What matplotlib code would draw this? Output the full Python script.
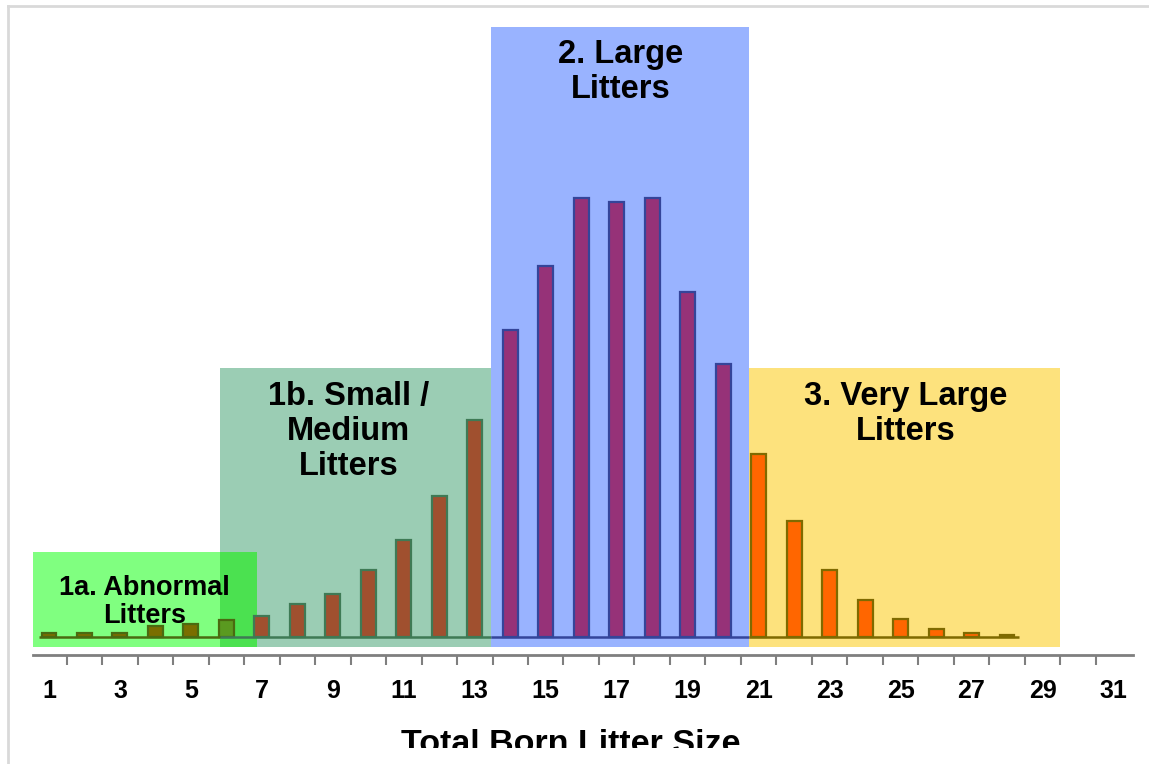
import matplotlib
matplotlib.use('Agg')
import matplotlib.pyplot as plt
from matplotlib.patches import Rectangle
from matplotlib.lines import Line2D

plt.rcParams['font.family'] = ['Liberation Sans', 'DejaVu Sans']

# litter size and share of litters (%)
litter_size = list(range(1, 29))
share = [0.11, 0.11, 0.11, 0.30, 0.35, 0.46, 0.57, 0.89, 1.16, 1.80,
         2.61, 3.79, 5.84, 8.26, 9.98, 11.81, 11.71, 11.81, 9.28, 7.35,
         4.92, 3.12, 1.80, 1.00, 0.48, 0.22, 0.11, 0.05]
tick_labels = [str(v) for v in range(1, 32, 2)]

# groups: name, first / last litter size, label
groups = ['1a', '1b', '2', '3']
group_labels = ['1a. Abnormal\nLitters', '1b. Small /\nMedium\nLitters',
                '2. Large\nLitters', '3. Very Large\nLitters']

# style
box_x = {'1a': (0.55, 6.86), '1b': (5.82, 13.45), '2': (13.45, 20.72), '3': (20.72, 29.48)}
box_top = {'1a': 2.29, '1b': 7.24, '2': 16.42, '3': 7.24}
box_col = {'1a': '#80ff80', '1b': '#9bcdb4', '2': '#99b3ff', '3': '#fde27d'}
bar_col = {'1a': '#7a6e00', '1b': '#a0502f', '2': '#963278', '3': '#ff6600'}
edge_col = {'1a': '#4a6a10', '1b': '#3f7a55', '2': '#34459a', '3': '#7f6a00'}
overlap_col = '#4be150'
box_bottom = -0.27

fig = plt.figure(figsize=(11.49, 7.64), dpi=100)
ax = fig.add_axes([33 / 1149, 109 / 764, 1100 / 1149, 628 / 764])
ax.set_xlim(0.55, 31.55)
ax.set_ylim(-0.484, 16.415)

def group_of(n):
    if n <= 6:
        return '1a'
    if n <= 13:
        return '1b'
    if n <= 20:
        return '2'
    return '3'

# background boxes
for g in groups:
    x0, x1 = box_x[g]
    ax.add_patch(Rectangle((x0, box_bottom), x1 - x0, box_top[g] - box_bottom,
                           facecolor=box_col[g], edgecolor='none', zorder=1))
ax.add_patch(Rectangle((box_x['1b'][0], box_bottom), box_x['1a'][1] - box_x['1b'][0],
                       box_top['1a'] - box_bottom, facecolor=overlap_col,
                       edgecolor='none', zorder=1.5))

# bars
for n, v in zip(litter_size, share):
    g = group_of(n)
    fc = bar_col[g]
    if n == 6:
        fc = '#5a9a20'
    ax.bar(n, v, width=0.42, color=fc, edgecolor=edge_col[g], linewidth=1.6, zorder=3)

# zero line, one segment per group
seg = {'1a': (0.72, 5.82), '1b': (5.82, 13.45), '2': (13.45, 20.72), '3': (20.72, 28.35)}
for g in groups:
    ax.plot(seg[g], [0, 0], color=edge_col[g], lw=1.8, zorder=4, solid_capstyle='butt')

# group labels
ax.text(3.7, 0.94, group_labels[0], ha='center', va='center', fontsize=19.5,
        fontweight='bold', linespacing=1.12, zorder=5)
ax.text(9.45, 5.53, group_labels[1], ha='center', va='center', fontsize=23.5,
        fontweight='bold', linespacing=1.17, zorder=5)
ax.text(17.1, 15.2, group_labels[2], ha='center', va='center', fontsize=23.5,
        fontweight='bold', linespacing=1.17, zorder=5)
ax.text(25.15, 6.0, group_labels[3], ha='center', va='center', fontsize=23.5,
        fontweight='bold', linespacing=1.17, zorder=5)

# axes
for s in ['top', 'right', 'left']:
    ax.spines[s].set_visible(False)
ax.spines['bottom'].set_color('#7f7f7f')
ax.spines['bottom'].set_linewidth(2)
ax.set_yticks([])
ax.set_xticks([v + 0.5 for v in range(1, 31)])
ax.set_xticklabels([])
ax.set_xticks(range(1, 32, 2), minor=True)
ax.set_xticklabels(tick_labels, minor=True, fontsize=18, fontweight='bold')
ax.tick_params(axis='x', which='major', length=7, width=1.5, color='#7f7f7f', direction='out')
ax.tick_params(axis='x', which='minor', length=0, pad=17)
ax.set_xlabel('Total Born Litter Size', fontsize=24.5, fontweight='bold')
ax.xaxis.set_label_coords((571 - 33) / 1100, -74 / 628)

# clipped bottom edge and light frame
fig.add_artist(Rectangle((0, 0), 1, 16 / 764, transform=fig.transFigure,
                         facecolor='white', edgecolor='none', zorder=10))
fig.add_artist(Line2D([8 / 1149, 8 / 1149], [0, 758 / 764], color='#d9d9d9', lw=2, zorder=11))
fig.add_artist(Line2D([8 / 1149, 1], [758 / 764, 758 / 764], color='#d9d9d9', lw=2, zorder=11))

fig.savefig('out.png', dpi=100)
